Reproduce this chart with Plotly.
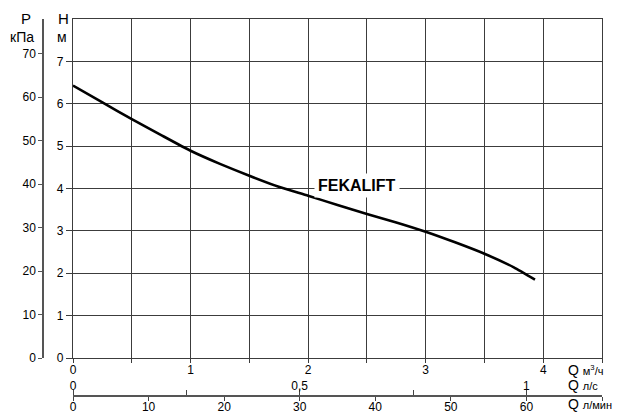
import plotly.graph_objects as go

# ---- data ----
q_m3h = [0, 0.25, 0.5, 0.75, 1.0, 1.25, 1.5, 1.75, 2.0, 2.25, 2.5, 2.75, 3.0, 3.25, 3.5, 3.75, 3.93]
head_m = [6.43, 6.03, 5.64, 5.26, 4.89, 4.58, 4.30, 4.04, 3.83, 3.61, 3.40, 3.20, 2.98, 2.73, 2.46, 2.14, 1.85]
curve_name = "FEKALIFT"

x_ticks = [0, 0.5, 1, 1.5, 2, 2.5, 3, 3.5, 4, 4.5]
x_text = ["0", "", "1", "", "2", "", "3", "", "4", ""]
h_ticks = [0, 1, 2, 3, 4, 5, 6, 7]
p_ticks = [0, 10, 20, 30, 40, 50, 60, 70]
ls_ticks = [0, 0.25, 0.5, 0.75, 1]
ls_text = ["0", "", "0,5", "", "1"]
lmin_ticks = [0, 10, 20, 30, 40, 50, 60, 70]
lmin_text = ["0", "10", "20", "30", "40", "50", "60", ""]

# ---- layout geometry (pixels) ----
W, H = 621, 413
ML, MR, MT, MB = 5, 19, 19, 17
PX_L, PX_R = 73, 602          # plot area left / right
PY_T, PY_B = 19, 358          # plot area top / bottom
Q_MAX = 4.5
H_MAX = 8
P_MAX = 78
Q_AUX_END = 4.2              # m3/h where lower axes end

def fx(px):
    return (px - ML) / (W - ML - MR)

def fy(py):
    return (H - MB - py) / (H - MT - MB)

FONT = "Liberation Sans, Arial, sans-serif"
GRID = "#3c3c3c"

fig = go.Figure()
fig.add_trace(go.Scatter(x=q_m3h, y=head_m, mode="lines",
                         line=dict(color="black", width=2.6, shape="spline", smoothing=0.5),
                         showlegend=False, hoverinfo="skip"))
# dummy traces to activate auxiliary axes
fig.add_trace(go.Scatter(x=[None], y=[None], xaxis="x2", yaxis="y", showlegend=False))
fig.add_trace(go.Scatter(x=[None], y=[None], xaxis="x3", yaxis="y", showlegend=False))
fig.add_trace(go.Scatter(x=[None], y=[None], xaxis="x", yaxis="y2", showlegend=False))

x_dom = [fx(PX_L), 1.0]
aux_end_px = PX_L + (PX_R - PX_L) * Q_AUX_END / Q_MAX
aux_dom = [fx(PX_L), fx(aux_end_px)]
y_dom = [fy(PY_B), 1.0]

tickfont = dict(family=FONT, size=12, color="black")

fig.update_layout(
    width=W, height=H,
    margin=dict(l=ML, r=MR, t=MT, b=MB, autoexpand=False),
    paper_bgcolor="white", plot_bgcolor="white",
    font=dict(family=FONT, color="black"),
    xaxis=dict(domain=x_dom, range=[0, Q_MAX], tickmode="array", tickvals=x_ticks, ticktext=x_text,
               showgrid=True, gridcolor=GRID, gridwidth=1.3, zeroline=False,
               showline=True, linecolor=GRID, linewidth=1.3, mirror=True,
               ticks="outside", ticklen=4, tickcolor=GRID, tickwidth=1.3, tickfont=tickfont,
               ticklabelstandoff=-4, anchor="y", automargin=False),
    yaxis=dict(domain=y_dom, range=[0, H_MAX], tickmode="array", tickvals=h_ticks,
               showgrid=True, gridcolor=GRID, gridwidth=1.3, zeroline=False,
               showline=True, linecolor=GRID, linewidth=1.3, mirror=True,
               ticks="outside", ticklen=6, tickcolor=GRID, tickwidth=1.3, tickfont=tickfont,
               ticklabelstandoff=0, anchor="x", automargin=False),
    yaxis2=dict(domain=y_dom, range=[0, P_MAX], overlaying="y", anchor="free", position=fx(43),
                side="left", tickmode="array", tickvals=p_ticks, showgrid=False, zeroline=False,
                showline=True, linecolor="#555555", linewidth=1.5,
                ticks="outside", ticklen=4, tickcolor="#555555", tickwidth=1.3, tickfont=tickfont,
                ticklabelstandoff=0, automargin=False),
    xaxis2=dict(domain=aux_dom, range=[0, Q_AUX_END / 3.6], overlaying="x", anchor="free", position=0,
                side="top", tickmode="array", tickvals=ls_ticks, ticktext=ls_text,
                showgrid=False, zeroline=False, showline=True, linecolor="#555555", linewidth=1.5,
                ticks="outside", ticklen=5, tickcolor="#444444", tickwidth=1.2, tickfont=tickfont,
                ticklabelstandoff=-5, automargin=False),
    xaxis3=dict(domain=aux_dom, range=[0, Q_AUX_END * 1000 / 60], overlaying="x", anchor="free", position=0,
                side="bottom", tickmode="array", tickvals=lmin_ticks, ticktext=lmin_text,
                showgrid=False, zeroline=False, showline=True, linecolor="#555555", linewidth=1.5,
                ticks="outside", ticklen=4, tickcolor="#444444", tickwidth=1.2, tickfont=tickfont,
                ticklabelstandoff=-4, automargin=False),
)

ann = []
# curve label
ann.append(dict(x=2.415, y=4.06, xref="x", yref="y", text="<b>%s</b>" % curve_name, showarrow=False,
                xanchor="center", yanchor="middle",
                font=dict(family=FONT, size=16, color="black"), bgcolor="white", borderpad=3))

def title(px, py, text, size, xanchor="center"):
    ann.append(dict(x=fx(px), y=fy(py), xref="paper", yref="paper", text=text, showarrow=False,
                    xanchor=xanchor, yanchor="middle",
                    font=dict(family=FONT, size=size, color="black")))

title(26, 18, "P", 15)
title(22, 37, "кПа", 14)
title(63, 18, "H", 15)
title(62, 37, "м", 14)
title(566, 370, "Q <span style='font-size:11px'>м<sup>3</sup>/ч</span>", 14, "left")
title(566, 385, "Q <span style='font-size:11px'>л/с</span>", 14, "left")
title(566, 404, "Q <span style='font-size:11px'>л/мин</span>", 14, "left")
fig.update_layout(annotations=ann)

fig.write_html("out.html", config={"displayModeBar": False},
               post_script="document.body.style.margin='0';document.body.style.overflow='hidden';")
